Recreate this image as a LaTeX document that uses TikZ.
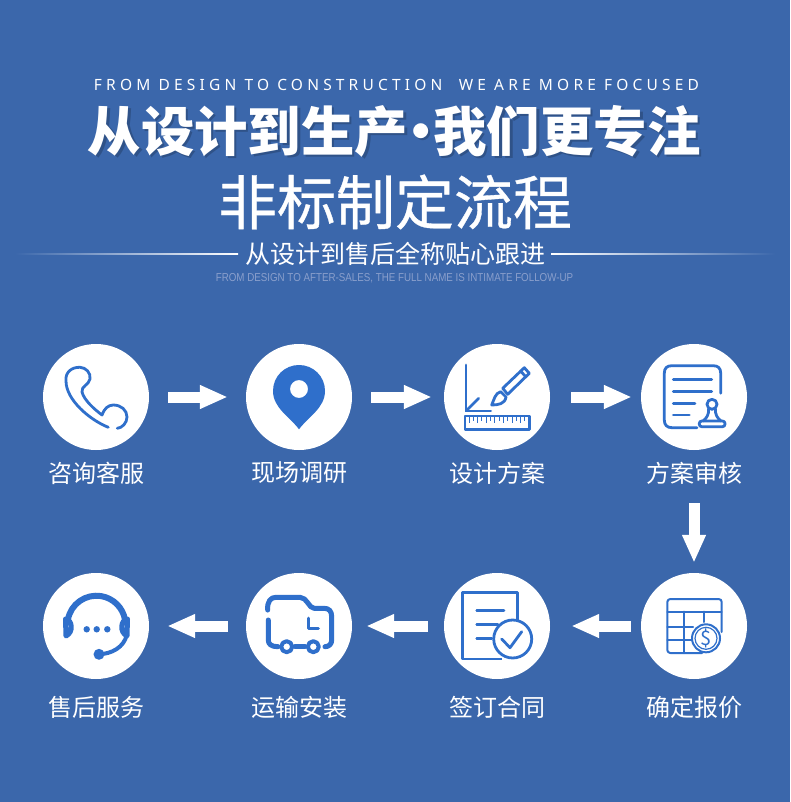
\documentclass[tikz,border=0pt]{standalone}
\usepackage{fontspec}
\usepackage{xcolor}
\usetikzlibrary{
	arrows.meta
}
\setmainfont{Noto Sans CJK SC}
\newfontfamily\spacedfont[LetterSpace=27]{Noto Sans}
\newfontfamily\thinfont[FakeStretch=0.85]{Liberation Sans}
\newfontfamily\mediumfont[FakeBold=0.6]{Noto Sans CJK SC}
\newcommand{\titledot}{\hspace{-14pt}·\hspace{-14pt}}
\definecolor{bgblue}{HTML}{3B67AB}
\definecolor{iconblue}{HTML}{2F6FCB}
\definecolor{fadetext}{HTML}{8A9FCC}
\tikzset{
	stepcircle/.style={circle,fill=white,minimum size=106pt,inner sep=0pt},
	steplabel/.style={text=white,font=\fontsize{24}{24}\selectfont,inner sep=0pt},
	blockarrow/.style={white,line width=11pt,-{Triangle[length=28pt,width=22pt]}},
	iconline/.style={iconblue,line width=2.8pt,line cap=round,line join=round},
	iconthick/.style={iconblue,line width=5pt,line cap=round,line join=round},
	iconthin/.style={iconblue,line width=2pt,line cap=round,line join=round}
}
\begin{document}
\begin{tikzpicture}[x=1pt,y=-1pt]
	\useasboundingbox (0,0) rectangle (790,802);
	\fill[bgblue] (0,0) rectangle (790,802);
	
	% Heading
	\node[text=white,inner sep=0pt,font=\spacedfont\fontsize{15.5}{16}\selectfont] (top) at (396.5,85){FROM DESIGN TO CONSTRUCTION\ \ WE ARE MORE FOCUSED};
	\node[text=black,opacity=0.2,inner sep=0pt,font=\bfseries\fontsize{53.4}{54}\selectfont] (titleshadow) at (396.5,133.5){从设计到生产\titledot 我们更专注};
	\node[text=white,inner sep=0pt,font=\bfseries\fontsize{53.4}{54}\selectfont] (title) at (394,131){从设计到生产\titledot 我们更专注};
	\node[text=white,inner sep=0pt,font=\mediumfont\fontsize{59}{59}\selectfont] (flow) at (395,202){非标制定流程};
	\node[text=white,inner sep=0pt,font=\fontsize{25}{25}\selectfont] (sub) at (395.5,254){从设计到售后全称贴心跟进};
	\node[text=fadetext,inner sep=0pt,font=\thinfont\fontsize{11.5}{12}\selectfont] (small) at (394.5,278.5){FROM DESIGN TO AFTER-SALES, THE FULL NAME IS INTIMATE FOLLOW-UP};
	\fill[left color=bgblue,right color=white] (15,253.2) rectangle (238,254.4);
	\fill[left color=white,right color=bgblue] (551,253.2) rectangle (775,254.4);
	
	% Steps
	\foreach \name/\x/\y in {consult/96/397,survey/299/397,design/497/397,review/694/397,quote/694/626,sign/497/626,ship/299/626,service/96/626}{
		\node[stepcircle] (\name) at (\x,\y){};
	}
	\node[steplabel] (l1) at (96,473){咨询客服};
	\node[steplabel] (l2) at (299,473){现场调研};
	\node[steplabel] (l3) at (497.5,473){设计方案};
	\node[steplabel] (l4) at (694,473){方案审核};
	\node[steplabel] (l5) at (694,707){确定报价};
	\node[steplabel] (l6) at (497.5,707){签订合同};
	\node[steplabel] (l7) at (299,707){运输安装};
	\node[steplabel] (l8) at (96,707){售后服务};
	
	% Arrows
	\draw[blockarrow,shorten <=19pt,shorten >=18pt] (consult)--(survey);
	\draw[blockarrow,shorten <=19pt,shorten >=12pt] (survey)--(design);
	\draw[blockarrow,shorten <=21pt,shorten >=9pt] (design)--(review);
	\draw[blockarrow,shorten <=53pt,shorten >=10pt] (review)--(quote);
	\draw[blockarrow,shorten <=10pt,shorten >=21pt] (quote)--(sign);
	\draw[blockarrow,shorten <=16pt,shorten >=14pt] (sign)--(ship);
	\draw[blockarrow,shorten <=18pt,shorten >=18pt] (ship)--(service);
	
	% Phone
	\draw[iconline] (108.3,427.3) .. controls (90,420) and (66,400) .. (66,381)
		.. controls (65,372) and (72,367) .. (80,367.3)
		.. controls (86,367.5) and (91,373) .. (90,379)
		.. controls (89,385) and (81,386) .. (82,392)
		.. controls (84,400) and (94,409) .. (102,415)
		.. controls (104,409) and (108,405) .. (113.3,405)
		.. controls (121,405) and (127,410) .. (127,417)
		.. controls (127,423) and (122,428) .. (117.3,428.3);
	
	% Pin
	\fill[iconblue,even odd rule] (299,429.3) .. controls (290,417) and (273,408) .. (273,391)
		.. controls (273,376) and (285,365) .. (299,365)
		.. controls (313,365) and (325,376) .. (325,391)
		.. controls (325,408) and (308,417) .. (299,429.3) -- cycle
		(299,389) circle (9);
	
	% Ruler and brush
	\draw[iconline] (466,365)--(466,411)--(490.7,411);
	\draw[iconline] (466,411)--(478.7,398.3);
	\draw[iconline] (465,416) rectangle (529.3,429.3);
	\foreach \i in {0,1,...,13}
	\draw[iconblue,line width=1pt] (469+\i*4.3,417)--(469+\i*4.3,{423-mod(\i,2)*2});
	\draw[iconline] (507.7,394.3)--(502.7,388.3)--(524.3,367.7)--(529.3,373.3)--cycle;
	\draw[iconline] (520.5,371)--(526,377);
	\draw[iconline] (500.7,391.7) .. controls (495,393) and (494,400) .. (491.7,405)
		.. controls (498,405) and (505,404) .. (506,397) -- cycle;
	
	% Document with stamp
	\draw[iconline] (720.7,393.3)--(720.7,373.3) .. controls (720.7,368) and (718,365.7) .. (713,365.7)
		--(672,365.7) .. controls (667,365.7) and (664.3,368) .. (664.3,373.3)
		--(664.3,420) .. controls (664.3,425) and (667,427.7) .. (672,427.7)--(697,427.7);
	\draw[iconline] (673.3,379.3)--(711.7,379.3);
	\draw[iconline] (673.3,391.7)--(711.7,391.7);
	\draw[iconline] (673.3,403.3)--(695,403.3);
	\draw[iconline] (673.3,415)--(689.3,415);
	\draw[iconline] (712,404.3) circle (5);
	\draw[iconline] (708.5,409) .. controls (709,414) and (707,418) .. (703,421);
	\draw[iconline] (715.5,409) .. controls (715,414) and (717,418) .. (721,421);
	\draw[iconline,rounded corners=2.5pt] (699.3,421) rectangle (725,426.7);
	
	% Table with coin
	\draw[iconthin,rounded corners=3pt] (702,653)--(667.3,653)--(667.3,599)--(721.7,599)--(721.7,632);
	\draw[iconthin] (667.3,611.7)--(721.7,611.7);
	\draw[iconthin] (684,611.7)--(684,653);
	\draw[iconthin] (704,611.7)--(704,622);
	\draw[iconthin] (667.3,626.7)--(693,626.7);
	\draw[iconthin] (667.3,640)--(693,640);
	\draw[iconthin,fill=white] (706,638.3) circle (14);
	\draw[iconblue,line width=1.2pt] (706,638.3) circle (11);
	\node[text=iconblue,inner sep=0pt,font=\fontsize{20}{20}\selectfont] (coin) at (706,638.3){\$};
	
	% Contract with check
	\draw[iconline,line cap=butt] (517.7,620)--(517.7,592.3)--(462.7,592.3)--(462.7,659)--(502,659);
	\draw[iconline] (476.7,610.7)--(504,610.7);
	\draw[iconline] (476.7,624.3)--(498,624.3);
	\draw[iconline] (476.7,638.3)--(491.7,638.3);
	\draw[iconline,fill=white] (512.7,639) circle (19);
	\draw[iconline] (501.7,639)--(510,647.7)--(521.7,631.7);
	
	% Truck
	\draw[iconthick] (267.7,610) .. controls (267,601) and (271,597.3) .. (276,597.3)
		--(300,597.3) .. controls (307,597.3) and (309,608.3) .. (314,608.3)
		--(324,608.3) .. controls (329,608.3) and (331.7,611) .. (331.7,617)
		--(331.7,640) .. controls (331.7,644) and (329,646.7) .. (325,646.7);
	\draw[iconthick] (268.3,620)--(268.3,640) .. controls (268.3,644) and (271,646.7) .. (278,646.7);
	\draw[iconthick] (295,646.7)--(305,646.7);
	\draw[iconline,line width=4pt] (286.7,646.7) circle (5.5);
	\draw[iconline,line width=4pt] (313.3,646.7) circle (5.5);
	\draw[iconline,line width=3.4pt] (308.3,618.3)--(308.3,628.3)--(318.3,628.3);
	
	% Headset
	\draw[iconthick,line width=6pt,line cap=butt] (67.9,619.7) arc (-170:-10:29);
	\draw[iconthick] (66,619) .. controls (72,620) and (74,632) .. (66,636)--(65.5,619);
	\draw[iconthick] (127,619) .. controls (121,620) and (119,632) .. (127,636)--(127.5,619);
	\fill[iconblue] (86.7,629.3) circle (3.2);
	\fill[iconblue] (96.7,629.3) circle (3.2);
	\fill[iconblue] (107.3,629.3) circle (3.2);
	\draw[iconline,line width=4pt] (126.7,635) .. controls (124,647) and (112,654) .. (98.3,654.3);
	\fill[iconblue] (99,654.3) circle (5.5);
\end{tikzpicture}
\end{document}
